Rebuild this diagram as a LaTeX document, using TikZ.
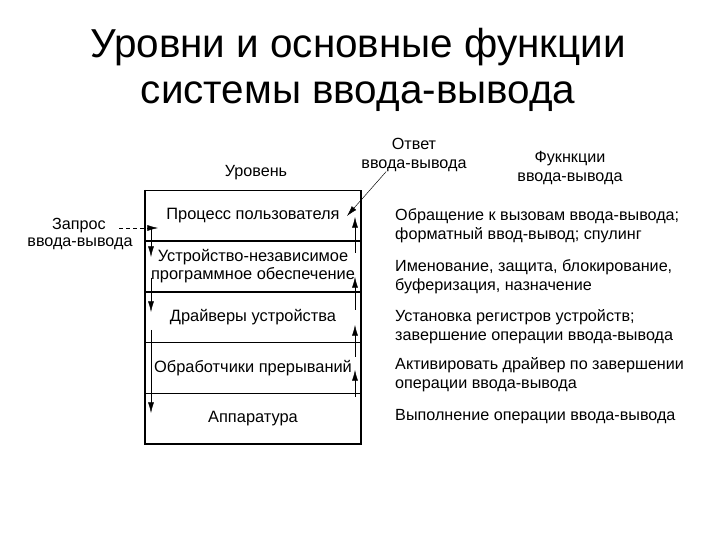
\documentclass[tikz,border=0pt]{standalone}
\usepackage{fontspec}
\setmainfont{Liberation Sans}
\usetikzlibrary{arrows.meta,positioning}

\begin{document}
\begin{tikzpicture}[>={Latex[length=9pt,width=5pt]},x=0.03cm,y=-0.03cm]
  \tikzstyle{layer}=[inner sep=0pt,align=center,minimum width=6.48cm,minimum height=1.512cm,font=\fontsize{14}{15.5}\selectfont]
  \tikzstyle{func}=[anchor=west,inner sep=0pt,align=left,font=\fontsize{13.8}{16.5}\selectfont]
  \tikzstyle{lbl}=[inner sep=0pt,align=center,font=\fontsize{13.8}{15.5}\selectfont]
  \useasboundingbox (0,0) rectangle (720,540);
  \node[align=center,font=\fontsize{34.5}{39}\selectfont] (title) at (358,70) {Уровни и основные функции\\системы ввода-вывода};
  % levels
  \node[layer] (user) at (253,215.2) {Процесс пользователя};
  \node[layer,below=0pt of user] (indep) {Устройство-независимое\\программное обеспечение};
  \node[layer,below=0pt of indep] (drv) {Драйверы устройства};
  \node[layer,below=0pt of drv] (intr) {Обработчики прерываний};
  \node[layer,below=0pt of intr] (hw) {Аппаратура};
  \draw[thin] (user.north west) -- (user.north east);
  \draw[line width=1.7pt] (user.north west) -- (hw.south west) -- (hw.south east) -- (user.north east);
  \draw[line width=1.7pt] (user.south west) -- (user.south east);
  \draw[line width=1.7pt] (indep.south west) -- (indep.south east);
  \draw[thin] (drv.south west) -- (drv.south east);
  \draw[thin] (intr.south west) -- (intr.south east);
  % headings
  \node[lbl] (lev) at (256,173) {Уровень};
  \node[lbl] (resp) at (414,155) {Ответ\\ввода-вывода};
  \node[lbl] (fhead) at (570,168) {Фукнкции\\ввода-вывода};
  \node[lbl] (reqa) at (79,226) {Запрос};
  \node[lbl] (reqb) at (80,244) {ввода-вывода};
  % functions
  \node[func] (f1) at (395,226) {Обращение к вызовам ввода-вывода;\\форматный ввод-вывод; спулинг};
  \node[func] (f2) at (395,277) {Именование, защита, блокирование,\\буферизация, назначение};
  \node[func] (f3) at (395,327) {Установка регистров устройств;\\завершение операции ввода-вывода};
  \node[func] (f4) at (395,375) {Активировать драйвер по завершении\\операции ввода-вывода};
  \node[func] (f5) at (395,417) {Выполнение операции ввода-вывода};
  % request path
  \coordinate (reqin) at (158,228);
  \draw[dashed,->] ([xshift=0.4cm]reqa.east |- reqin) -- (reqin);
  \foreach \a/\b [count=\i] in {228/257,278/312,330/413}{
    \coordinate (dn\i a) at (151,\a);
    \coordinate (dn\i b) at (151,\b);
    \draw[->] (dn\i a) -- (dn\i b);
  }
  % response path
  \foreach \a/\b [count=\i] in {253/217,310/277,357/325,397/370}{
    \coordinate (up\i a) at (355,\a);
    \coordinate (up\i b) at (355,\b);
    \draw[->] (up\i a) -- (up\i b);
  }
  \coordinate (respend) at (347,216);
  \draw[->] ([xshift=0.75cm]resp.south west) -- (respend);
\end{tikzpicture}
\end{document}
